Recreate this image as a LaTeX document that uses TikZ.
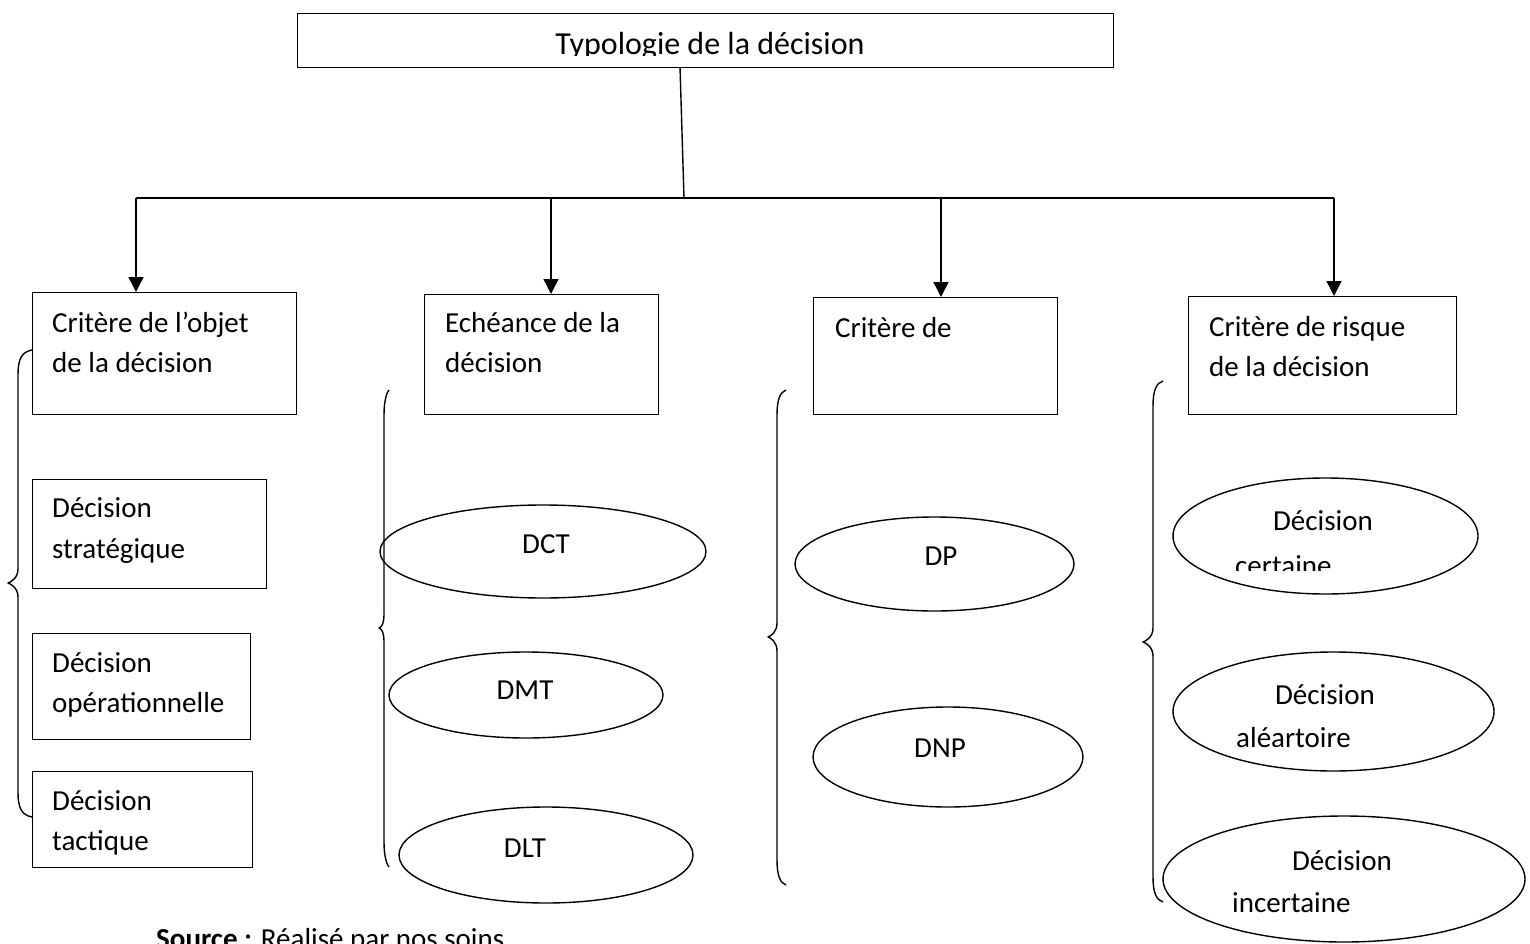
\documentclass[tikz,border=0pt]{standalone}
\usepackage{fontspec}
\setmainfont{Carlito}
\usetikzlibrary{shapes.geometric,arrows.meta}
\tikzset{
  box/.style={draw, line width=1.4pt, inner sep=0pt, anchor=north west},
  oval/.style={draw, ellipse, line width=1.4pt, inner sep=0pt},
  lbl/.style={inner sep=0pt, anchor=base west, font=\fontsize{29}{35}\selectfont},
  clbl/.style={inner sep=0pt, anchor=base, font=\fontsize{29}{35}\selectfont},
  ln/.style={line width=1.4pt},
  arr/.style={line width=1.4pt, -{Triangle[length=15pt,width=15pt]}},
  bracestyle/.style={line width=1.4pt, line join=round}
}
\newcommand\mybrace[6]{%
  \draw[bracestyle] (#1,#4) .. controls (#2+3,#4+2) and (#2,#4+10) .. (#2,#4+25)
    -- (#2,#5-14) .. controls (#2,#5-5) and (#3+3,#5-1) .. (#3,#5)
    .. controls (#3+3,#5+1) and (#2,#5+5) .. (#2,#5+14)
    -- (#2,#6-25) .. controls (#2,#6-10) and (#2+3,#6-2) .. (#1,#6);}
\begin{document}
\begin{tikzpicture}[x=1pt,y=-1pt]
\useasboundingbox (0,0) rectangle (1530,944);
\clip (0,0) rectangle (1530,944);
% title
\node[box, minimum width=816pt, minimum height=54pt] (title) at (297,13) {};
\begin{scope}
  \clip (297,13) rectangle (1113,55.5);
  \node[clbl, font=\fontsize{32}{38}\selectfont] (ttext) at (710,55) {Typologie de la décision};
\end{scope}
% criteria boxes
\node[box, minimum width=264pt, minimum height=122pt] (b1) at (32,292) {};
\node[box, minimum width=234pt, minimum height=120pt] (b2) at (424,294) {};
\node[box, minimum width=244pt, minimum height=117pt] (b3) at (813,297) {};
\node[box, minimum width=268pt, minimum height=118pt] (b4) at (1188,296) {};
% connectors
\coordinate (ts) at (680,67);
\coordinate (hub) at (684,198);
\draw[ln] (ts) -- (hub);
\coordinate (j1) at (136,198);
\coordinate (j2) at (551,198);
\coordinate (j3) at (941,198);
\coordinate (j4) at (1334,198);
\draw[ln] (j1) -- (j4);
\draw[arr] (j1) -- (j1 |- b1.north);
\draw[arr] (j2) -- (j2 |- b2.north);
\draw[arr] (j3) -- (j3 |- b3.north);
\draw[arr] (j4) -- (j4 |- b4.north);
% box texts
\node[lbl] (t1a) at (52,332) {Critère de l’objet};
\node[lbl] (t1b) at (52,372) {de la décision};
\node[lbl] (t2a) at (445,332) {Echéance de la};
\node[lbl] (t2b) at (445,372) {décision};
\node[lbl] (t3a) at (835,337) {Critère de};
\node[lbl] (t4a) at (1209,336) {Critère de risque};
\node[lbl] (t4b) at (1209,376) {de la décision};
% column 1 boxes
\node[box, minimum width=234pt, minimum height=109pt] (s1) at (32,479) {};
\node[lbl] (s1a) at (52,517) {Décision};
\node[lbl] (s1b) at (52,558) {stratégique};
\node[box, minimum width=218pt, minimum height=106pt] (s2) at (32,633) {};
\node[lbl] (s2a) at (52,672) {Décision};
\node[lbl] (s2b) at (52,712) {opérationnelle};
\node[box, minimum width=220pt, minimum height=96pt] (s3) at (32,771) {};
\node[lbl] (s3a) at (52,810) {Décision};
\node[lbl] (s3b) at (52,850) {tactique};
% column 2 ellipses
\node[oval, minimum width=326pt, minimum height=93pt] (dct) at (543,551.5) {};
\node[clbl] (dcttext) at (546,553) {DCT};
\node[oval, minimum width=274pt, minimum height=86pt] (dmt) at (526,695) {};
\node[clbl] (dmttext) at (525,699) {DMT};
\node[oval, minimum width=294pt, minimum height=96pt] (dlt) at (546,855) {};
\node[clbl] (dlttext) at (525,857) {DLT};
% column 3 ellipses
\node[oval, minimum width=279pt, minimum height=94pt] (dp) at (934.5,564) {};
\node[clbl] (dptext) at (941,565) {DP};
\node[oval, minimum width=270pt, minimum height=100pt] (dnp) at (948,757) {};
\node[clbl] (dnptext) at (940,757) {DNP};
% column 4 ellipses
\node[oval, minimum width=305pt, minimum height=116pt] (dc) at (1325.5,536) {};
\node[clbl] (dca) at (1323,530) {Décision};
\begin{scope}
  \clip (1180,540) rectangle (1480,570);
  \node[lbl] (dcb) at (1235,575) {certaine};
\end{scope}
\node[oval, minimum width=321pt, minimum height=119pt] (da) at (1333.5,711.5) {};
\node[clbl] (daa) at (1325,704) {Décision};
\node[lbl] (dab) at (1236,747) {aléartoire};
\node[oval, minimum width=362pt, minimum height=126pt] (di) at (1344,879) {};
\node[clbl] (dia) at (1342,870) {Décision};
\node[lbl] (dib) at (1232,912) {incertaine};
% braces
\mybrace{32}{18}{8}{350}{583}{817}
\mybrace{389}{384}{379}{390}{628}{867}
\mybrace{786}{777}{768}{390}{637}{885}
\mybrace{1163}{1153}{1143}{381}{642}{902}
% source
\node[lbl] (src) at (156,948) {\textbf{Source :} Réalisé par nos soins};
\end{tikzpicture}
\end{document}
